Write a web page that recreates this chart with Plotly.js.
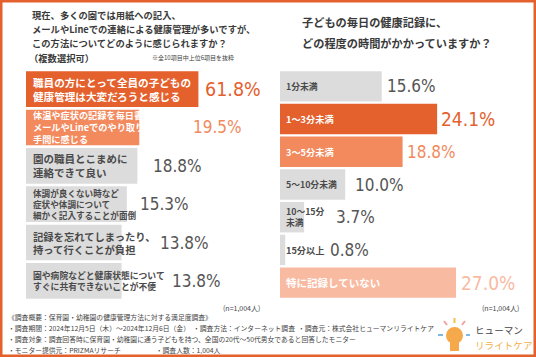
<!DOCTYPE html>
<html>
<head>
<meta charset="utf-8">
<script src="https://cdn.plot.ly/plotly-3.0.1.min.js"></script>
<style>
html,body{margin:0;padding:0;background:#fff;}
#chart{width:536px;height:357px;}
</style>
</head>
<body>
<div id="chart"></div>
<script>
// ---- data ----
const leftTitle = ["現在、多くの園では用紙への記入、", "メールやLineでの連絡による健康管理が多いですが、", "この方法についてどのように感じられますか？", "（複数選択可）"];
const leftNote = "※全10項目中上位6項目を抜粋";
const leftCategories = [
  "職員の方にとって全員の子どもの<br>健康管理は大変だろうと感じる",
  "体温や症状の記録を毎日書いたり、<br>メールやLineでのやり取りが<br>手間に感じる",
  "園の職員とこまめに<br>連絡できて良い",
  "体調が良くない時など<br>症状や体調について<br>細かく記入することが面倒",
  "記録を忘れてしまったり、<br>持って行くことが負担",
  "園や病院などと健康状態について<br>すぐに共有できないことが不便"
];
const leftValues = [61.8, 19.5, 18.8, 15.3, 13.8, 13.8];

const rightTitle = ["子どもの毎日の健康記録に、", "どの程度の時間がかかっていますか？"];
const rightCategories = ["1分未満", "1〜3分未満", "3〜5分未満", "5〜10分未満", "10〜15分<br>未満", "15分以上", "特に記録していない"];
const rightValues = [15.6, 24.1, 18.8, 10.0, 3.7, 0.8, 27.0];

const sampleNote = "(n=1,004人)";
const footerLines = [
  "《調査概要：保育園・幼稚園の健康管理方法に対する満足度調査》",
  "・調査期間：2024年12月5日（木）～2024年12月6日（金）  ・調査方法：インターネット調査  ・調査元：株式会社ヒューマンリライトケア",
  "・調査対象：調査回答時に保育園・幼稚園に通う子どもを持つ、全国の20代～50代男女であると回答したモニター",
  "・モニター提供元：PRIZMAリサーチ                       ・調査人数：1,004人"
];
const logoText = ["ヒューマン", "リライトケア"];

// ---- styles ----
const W = 536, H = 357;
const JP = "Noto Sans CJK JP, Noto Sans, sans-serif";
const NUM = "DejaVu Sans Condensed, Liberation Sans Narrow, Roboto, sans-serif";
const ORANGE = "#E4602D", MID = "#F28A5E", LIGHT = "#F9BAA2", GREY = "#DCDCDC", TXT = "#4a4a4a";

const leftBarColors = [ORANGE, MID, GREY, GREY, GREY, GREY];
const leftLabelColors = ["#fff", "#fff", TXT, TXT, TXT, TXT];
const leftLabelSizes = [10.6, 9.2, 10.5, 8.6, 10.3, 8.8];
const leftPctColors = [ORANGE, MID, "#555", "#555", "#555", "#555"];
const leftPctSizes = [19.5, 17, 17, 17, 17, 17];
const leftPctShift = [5, 52, 14, 11, 36, 48];

const rightBarColors = [GREY, ORANGE, MID, GREY, GREY, GREY, LIGHT];
const rightLabelColors = [TXT, "#fff", "#fff", TXT, TXT, TXT, "#fff"];
const rightLabelSizes = [8.8, 9.2, 9.2, 8.8, 8.8, 9.2, 10.5];
const rightPctColors = ["#555", ORANGE, MID, "#555", "#555", "#555", LIGHT];
const rightPctSizes = [17, 19, 17, 17, 17, 17, 19];
const rightPctShift = [3, 2, 2, 8, 30, 43, 3];

const px = v => v / W;
const py = v => 1 - v / H;

const leftIdx = leftValues.map((_, i) => i);
const rightIdx = rightValues.map((_, i) => i);

const traces = [
  {type: "bar", orientation: "h", x: leftValues, y: leftIdx, xaxis: "x", yaxis: "y",
   marker: {color: leftBarColors, line: {width: 0}}, hoverinfo: "skip"},
  {type: "bar", orientation: "h", x: rightValues, y: rightIdx, xaxis: "x2", yaxis: "y2",
   marker: {color: rightBarColors, line: {width: 0}}, hoverinfo: "skip"}
];

const ann = [];
const txt = (text, x, y, size, color, opts) => Object.assign({
  text, x, y, xref: "paper", yref: "paper", xanchor: "left", yanchor: "middle",
  showarrow: false, align: "left", font: {family: JP, size, color}
}, opts || {});

leftTitle.forEach((t, i) => ann.push(txt(t, px(i === 3 ? 27 : 30), py(15 + i * 14.2), 9.3, "#3a3a3a", {font: {family: JP, size: 9.3, color: "#3a3a3a", weight: 700}})));
ann.push(txt(leftNote, px(150), py(58), 6, "#444"));
rightTitle.forEach((t, i) => ann.push(txt(t, px(300), py(22 + i * 21), 11.2, "#3a3a3a", {font: {family: JP, size: 11.2, color: "#3a3a3a", weight: 700}})));

leftCategories.forEach((c, i) => ann.push({
  text: c, xref: "paper", x: px(31), yref: "y", y: i, xanchor: "left", yanchor: "middle",
  showarrow: false, align: "left",
  font: {family: JP, size: leftLabelSizes[i], color: leftLabelColors[i], weight: 700}
}));
leftValues.forEach((v, i) => ann.push({
  text: v.toFixed(1) + "%", xref: "x", x: Math.log10(v), yref: "y", y: i,
  xanchor: "left", yanchor: "middle", xshift: leftPctShift[i], showarrow: false,
  font: {family: NUM, size: leftPctSizes[i], color: leftPctColors[i], weight: 500}
}));

rightCategories.forEach((c, i) => ann.push({
  text: c, xref: "paper", x: px(284), yref: "y2", y: i, xanchor: "left", yanchor: "middle",
  showarrow: false, align: "left",
  font: {family: JP, size: rightLabelSizes[i], color: rightLabelColors[i], weight: 700}
}));
rightValues.forEach((v, i) => ann.push({
  text: v.toFixed(1) + "%", xref: "x2", x: v, yref: "y2", y: i,
  xanchor: "left", yanchor: "middle", xshift: rightPctShift[i], showarrow: false,
  font: {family: NUM, size: rightPctSizes[i], color: rightPctColors[i], weight: 500}
}));

ann.push(txt(sampleNote, px(262), py(308), 7, "#444", {xanchor: "right"}));
ann.push(txt(sampleNote, px(521), py(308), 7, "#444", {xanchor: "right"}));

footerLines.forEach((t, i) => ann.push(txt(t, px(6), py(316.5 + i * 11), 6.8, "#444")));

ann.push(txt(logoText[0], px(473), py(330), 9.6, "#444"));
ann.push(txt(logoText[1], px(473), py(344.5), 9.6, "#F2B04A"));

const shapes = [
  {type: "rect", xref: "paper", yref: "paper", x0: 0, x1: 1, y0: 0, y1: 1,
   line: {color: ORANGE, width: 5}, fillcolor: "rgba(0,0,0,0)"},
  // logo bulb
  {type: "circle", xref: "paper", yref: "paper", x0: px(446), x1: px(463), y0: py(344), y1: py(327),
   fillcolor: "#F5A94A", line: {width: 0}},
  {type: "rect", xref: "paper", yref: "paper", x0: px(450), x1: px(459), y0: py(351), y1: py(341),
   fillcolor: "#F5A94A", line: {width: 0}},
  {type: "line", xref: "paper", yref: "paper", x0: px(454.5), x1: px(454.5), y0: py(318), y1: py(323),
   line: {color: "#F5C04A", width: 2}},
  {type: "line", xref: "paper", yref: "paper", x0: px(444), x1: px(447), y0: py(321), y1: py(325),
   line: {color: "#F4A3A0", width: 2}},
  {type: "line", xref: "paper", yref: "paper", x0: px(465), x1: px(462), y0: py(321), y1: py(325),
   line: {color: "#F4A3A0", width: 2}},
  {type: "line", xref: "paper", yref: "paper", x0: px(438), x1: px(443), y0: py(335), y1: py(335),
   line: {color: "#7FB8E0", width: 2}},
  {type: "line", xref: "paper", yref: "paper", x0: px(466), x1: px(470), y0: py(335), y1: py(335),
   line: {color: "#7FB8E0", width: 2}}
];

const hidden = {showgrid: false, zeroline: false, showticklabels: false, showline: false, ticks: ""};

const layout = {
  width: W, height: H,
  margin: {l: 0, r: 0, t: 0, b: 0},
  paper_bgcolor: "#fff", plot_bgcolor: "rgba(0,0,0,0)",
  showlegend: false, bargap: 0.07,
  xaxis: Object.assign({type: "log", domain: [px(26), px(262)], range: [0.33, 0.33 + 236 / 118]}, hidden),
  yaxis: Object.assign({domain: [py(300), py(70)], range: [5.5, -0.5]}, hidden),
  xaxis2: Object.assign({domain: [px(280), px(530)], range: [0, 250 / 6.52], anchor: "y2"}, hidden),
  yaxis2: Object.assign({domain: [py(299), py(70)], range: [6.5, -0.5], anchor: "x2"}, hidden),
  annotations: ann,
  shapes: shapes
};

Plotly.newPlot("chart", traces, layout, {staticPlot: true, displayModeBar: false});
</script>
</body>
</html>
